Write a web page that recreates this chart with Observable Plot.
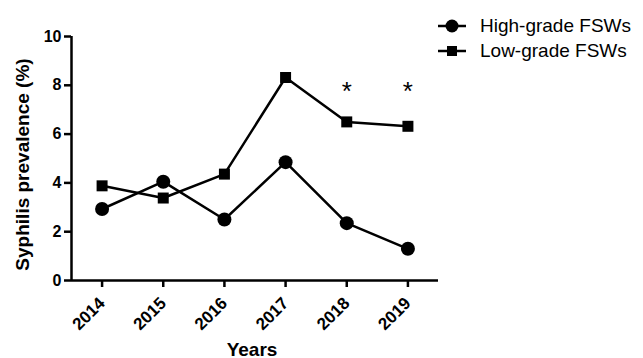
<!DOCTYPE html>
<html>
<head>
<meta charset="utf-8">
<script src="https://cdn.jsdelivr.net/npm/d3@7"></script>
<script src="https://cdn.jsdelivr.net/npm/@observablehq/plot@0.6"></script>
<style>
  body { margin: 0; background: #fff; }
  #wrap { position: relative; width: 643px; height: 358px; font-family: "Liberation Sans", Arial, sans-serif; }
  .leg { position: absolute; left: 437px; height: 24px; display: flex; align-items: center; font-size: 19px; color: #000; white-space: nowrap; }
  .leg svg { margin-right: 13px; }
  #wrap svg.plot-chart text { font-family: "Liberation Sans", Arial, sans-serif; }
</style>
</head>
<body>
<div id="wrap"></div>
<script>
const years = [2014, 2015, 2016, 2017, 2018, 2019];
const highGrade = [2.93, 4.05, 2.5, 4.85, 2.35, 1.3];
const lowGrade = [3.88, 3.38, 4.36, 8.32, 6.5, 6.32];
const seriesNames = ["High-grade FSWs", "Low-grade FSWs"];
const yTicks = [0, 2, 4, 6, 8, 10];
const starYears = [2018, 2019];
const starLevel = 7.4;
const yTitle = "Syphilis prevalence (%)";
const xTitle = "Years";

const rows = [];
years.forEach((y, i) => {
  rows.push({year: y, value: highGrade[i], series: seriesNames[0]});
  rows.push({year: y, value: lowGrade[i], series: seriesNames[1]});
});
const high = rows.filter(d => d.series === seriesNames[0]);
const low = rows.filter(d => d.series === seriesNames[1]);
const stars = starYears.map(y => ({year: y, label: "*"}));
const x0 = d3.min(years) - 0.5, x1 = d3.max(years) + 0.5;

const chart = Plot.plot({
  width: 643,
  height: 358,
  marginLeft: 71,
  marginRight: 205,
  marginTop: 36,
  marginBottom: 78,
  style: {fontFamily: "'Liberation Sans', Arial, sans-serif", fontSize: "16px", fontWeight: "bold", color: "#000", background: "#fff"},
  x: {domain: [x0, x1]},
  y: {domain: [0, 10]},
  marks: [
    Plot.axisY({ticks: yTicks, tickSize: 7, tickPadding: 3, fontSize: 16, fontWeight: "bold", strokeWidth: 2.5, label: null, tickFormat: d => String(d)}),
    Plot.axisX({ticks: years, tickSize: 7, tickPadding: 13, tickRotate: -45, fontSize: 17, fontWeight: "bold", strokeWidth: 2.5, label: null, tickFormat: d => String(d)}),
    Plot.ruleY([0], {stroke: "#000", strokeWidth: 2.5}),
    Plot.ruleX([x0], {stroke: "#000", strokeWidth: 2.5}),
    Plot.line(high, {x: "year", y: "value", stroke: "#000", strokeWidth: 2.5}),
    Plot.line(low, {x: "year", y: "value", stroke: "#000", strokeWidth: 2.5}),
    Plot.dot(high, {x: "year", y: "value", r: 7, fill: "#000", symbol: "circle"}),
    Plot.dot(low, {x: "year", y: "value", r: 6.2, fill: "#000", symbol: "square"}),
    Plot.text(stars, {x: "year", y: () => starLevel, text: "label", fontSize: 26, fontWeight: "normal", lineAnchor: "bottom", fill: "#000"}),
    Plot.text([yTitle], {frameAnchor: "left", textAnchor: "middle", rotate: -90, dx: -49, dy: 6, fontSize: 19, fontWeight: "bold", fill: "#000", text: d => d}),
    Plot.text([xTitle], {frameAnchor: "bottom", textAnchor: "middle", dy: 75, dx: -3, lineAnchor: "bottom", fontSize: 19, fontWeight: "bold", fill: "#000", text: d => d})
  ]
});
const wrap = document.getElementById("wrap");
wrap.appendChild(chart);

const legendTops = [14, 39];
seriesNames.forEach((name, i) => {
  const row = document.createElement("div");
  row.className = "leg";
  row.style.top = legendTops[i] + "px";
  const marker = i === 0
    ? '<circle cx="15" cy="12" r="6.5" fill="#000"/>'
    : '<rect x="10" y="7" width="10" height="10" fill="#000"/>';
  row.innerHTML = '<svg width="30" height="24"><line x1="1" x2="29" y1="12" y2="12" stroke="#000" stroke-width="2.5"/>' + marker + '</svg><span>' + name + '</span>';
  wrap.appendChild(row);
});
</script>
</body>
</html>
